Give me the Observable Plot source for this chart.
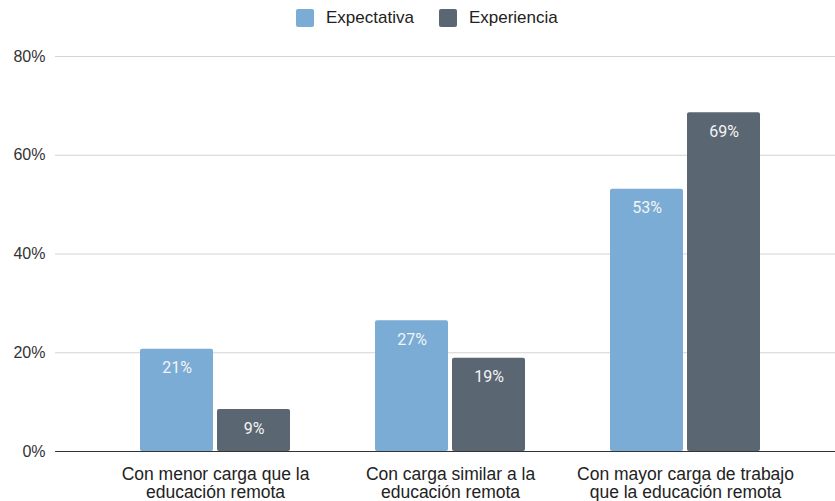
<!DOCTYPE html>
<html><head><meta charset="utf-8">
<script src="https://cdn.jsdelivr.net/npm/d3@7"></script>
<script src="https://cdn.jsdelivr.net/npm/@observablehq/plot@0.6"></script>
<style>
body{margin:0;background:#fff;font-family:"Liberation Sans",Arial,sans-serif;}
#legend{height:36px;display:flex;align-items:center;padding-left:296px;font-size:17px;color:#222;}
.item{display:flex;align-items:center;margin-right:25px;}
.sw{width:18px;height:18px;border-radius:2px;margin-right:12px;}
</style></head>
<body>
<div id="legend"></div>
<div id="chart"></div>
<script>
const categorias = ["Con menor carga que la\neducación remota", "Con carga similar a la\neducación remota", "Con mayor carga de trabajo\nque la educación remota"];
const series = ["Expectativa", "Experiencia"];
const expectativa = [20.7, 26.5, 53.1];
const experiencia = [8.5, 18.9, 68.6];
const yTicks = [0, 20, 40, 60, 80];
const colores = ["#7aacd5", "#5b6673"];

const rows = [];
categorias.forEach((c, i) => {
  rows.push({cat: c, serie: series[0], value: expectativa[i]});
  rows.push({cat: c, serie: series[1], value: experiencia[i]});
});
const exp1 = rows.filter(d => d.serie === series[0]);
const exp2 = rows.filter(d => d.serie === series[1]);

const legend = document.getElementById("legend");
series.forEach((s, i) => {
  const it = document.createElement("div"); it.className = "item";
  const sw = document.createElement("div"); sw.className = "sw"; sw.style.background = colores[i];
  const t = document.createElement("span"); t.textContent = s;
  it.appendChild(sw); it.appendChild(t); legend.appendChild(it);
});

const inset = 77;
const plot = Plot.plot({
  width: 835, height: 465,
  marginTop: 20, marginBottom: 50, marginLeft: 55, marginRight: 0,
  style: {fontFamily: "'Liberation Sans', Arial, sans-serif", color: "#333", background: "#fff", overflow: "visible"},
  x: {domain: categorias, range: [97, 804], paddingInner: 0.36, paddingOuter: 0.18, label: null},
  y: {domain: [0, 80], ticks: yTicks, label: null},
  marks: [
    Plot.gridY(yTicks, {stroke: "#d4d4d4", strokeOpacity: 1}),
    Plot.barY(exp1, {x: "cat", y: "value", fill: colores[0], insetRight: inset, rx: 2}),
    Plot.barY(exp2, {x: "cat", y: "value", fill: colores[1], insetLeft: inset, rx: 2}),
    Plot.ruleY([0], {stroke: "#333", strokeWidth: 1}),
    Plot.text(exp1, {x: "cat", y: "value", text: d => Math.round(d.value) + "%", dx: -38.5, dy: 19, fill: "#f4f4f4", fontSize: 16, fontFamily: "Roboto"}),
    Plot.text(exp2, {x: "cat", y: "value", text: d => Math.round(d.value) + "%", dx: 38.5, dy: 19, fill: "#f4f4f4", fontSize: 16, fontFamily: "Roboto"}),
    Plot.axisY({ticks: yTicks, tickSize: 0, tickPadding: 10, tickFormat: d => d + "%", fontSize: 16, label: null}),
    Plot.axisX({tickSize: 0, tickPadding: 15.5, fontSize: 17.5, lineHeight: 1.05, label: null, fill: "#222"})
  ]
});
document.getElementById("chart").appendChild(plot);
</script>
</body></html>
